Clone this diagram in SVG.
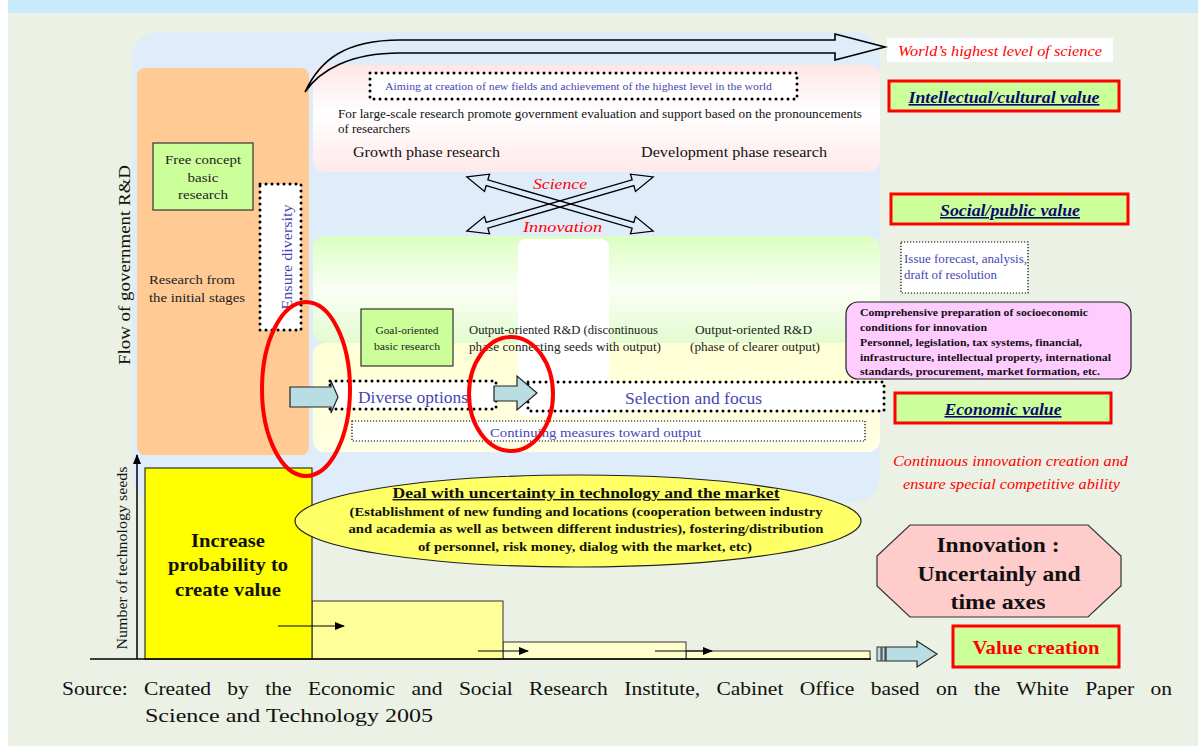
<svg xmlns="http://www.w3.org/2000/svg" width="1198" height="746" viewBox="0 0 1198 746" font-family="'Liberation Serif', 'DejaVu Serif', 'Noto Serif', serif">
  <defs>
    <linearGradient id="gPink" x1="0" y1="0" x2="0" y2="1">
      <stop offset="0" stop-color="#FFE6E6"/>
      <stop offset="0.45" stop-color="#FFFFFF"/>
      <stop offset="1" stop-color="#FFE9E9"/>
    </linearGradient>
    <linearGradient id="gGreen" x1="0" y1="0" x2="0" y2="1">
      <stop offset="0" stop-color="#DBFFC2"/>
      <stop offset="0.5" stop-color="#FBFFF6"/>
      <stop offset="1" stop-color="#E2FBCF"/>
    </linearGradient>
    <linearGradient id="gYellow" x1="0" y1="0" x2="0" y2="1">
      <stop offset="0" stop-color="#FFFFD6"/>
      <stop offset="1" stop-color="#FFFFE2"/>
    </linearGradient>
    <marker id="ah" markerWidth="10" markerHeight="8" refX="9" refY="4" orient="auto" markerUnits="userSpaceOnUse">
      <path d="M0,0 L10,4 L0,8 Z" fill="#000"/>
    </marker>
  </defs>
  <style>
    text { font-family: 'Liberation Serif', 'DejaVu Serif', 'Noto Serif', serif; }
    .blue { fill: #4646B4; }
    .val { font-weight: bold; font-style: italic; text-decoration: underline; fill: #0A0A6E; font-size: 16px; text-anchor: middle; }
    .valbox { fill: #CCFF99; stroke: #FF0000; stroke-width: 3; }
    .dots { fill: #FFFFFF; stroke: #000; stroke-width: 3; stroke-dasharray: 0 6; stroke-linecap: round; }
    .fine { fill: #FFFFFF; stroke: #000; stroke-width: 1.2; stroke-dasharray: 1.2 1.8; }
    .green { fill: #CCFF99; stroke: #333; stroke-width: 1.2; }
    .block { fill: #B8DEE4; stroke: #222; stroke-width: 1.2; }
    .ring { fill: none; stroke: #FF0000; stroke-width: 4; }
    .thin { fill: none; stroke: #000; stroke-width: 1.3; }
  </style>

  <!-- page -->
  <rect x="0" y="0" width="1198" height="746" fill="#FFFFFF"/>
  <rect x="8" y="0" width="1190" height="746" fill="#EBF1E4"/>
  <rect x="8" y="0" width="1190" height="13" fill="#C8EBFB"/>

  <!-- main panel and bands -->
  <g id="panel">
    <rect x="132" y="32" width="748" height="470" rx="26" fill="#DFECF9"/>
    <rect x="313" y="65" width="567" height="107" rx="12" fill="url(#gPink)"/>
    <rect x="313" y="236" width="567" height="107" rx="12" fill="url(#gGreen)"/>
    <rect x="313" y="343" width="567" height="109" rx="12" fill="url(#gYellow)"/>
    <rect x="518" y="239" width="91" height="178" rx="8" fill="#FFFFFF"/>
  </g>

  <!-- left column -->
  <g id="initial-stages">
    <rect x="137" y="68" width="172" height="387" rx="8" fill="#FFCA94"/>
    <text x="149" y="284" font-size="13" fill="#222" textLength="86" lengthAdjust="spacingAndGlyphs">Research from</text>
    <text x="149" y="302" font-size="13" fill="#222" textLength="96" lengthAdjust="spacingAndGlyphs">the initial stages</text>
  </g>
  <g id="free-concept">
    <rect class="green" x="153" y="143" width="100" height="67"/>
    <text x="203" y="164" font-size="13" text-anchor="middle" fill="#222" textLength="76" lengthAdjust="spacingAndGlyphs">Free concept</text>
    <text x="203" y="182" font-size="13" text-anchor="middle" fill="#222" textLength="31" lengthAdjust="spacingAndGlyphs">basic</text>
    <text x="203" y="199" font-size="13" text-anchor="middle" fill="#222" textLength="50" lengthAdjust="spacingAndGlyphs">research</text>
  </g>
  <g id="ensure-diversity">
    <rect class="dots" x="260" y="184" width="41" height="146"/>
    <text class="blue" transform="translate(292,257) rotate(-90)" font-size="14" text-anchor="middle" textLength="105" lengthAdjust="spacingAndGlyphs">Ensure diversity</text>
  </g>
  <g id="axis-labels">
    <text transform="translate(130,265) rotate(-90)" font-size="17" text-anchor="middle" fill="#111" textLength="200" lengthAdjust="spacingAndGlyphs">Flow of government R&amp;D</text>
    <text transform="translate(127,558) rotate(-90)" font-size="15" text-anchor="middle" fill="#111" textLength="183" lengthAdjust="spacingAndGlyphs">Number of technology seeds</text>
  </g>

  <!-- top band -->
  <g id="aiming">
    <rect class="dots" x="370" y="73" width="427" height="26"/>
    <text class="blue" x="385" y="90" font-size="10" textLength="387" lengthAdjust="spacingAndGlyphs">Aiming at creation of new fields and achievement of the highest level in the world</text>
  </g>
  <g id="growth-development">
    <text x="338" y="118" font-size="11.5" fill="#111" textLength="524" lengthAdjust="spacingAndGlyphs">For large-scale research promote government evaluation and support based on the pronouncements</text>
    <text x="338" y="133" font-size="11.5" fill="#111" textLength="72" lengthAdjust="spacingAndGlyphs">of researchers</text>
    <text x="353" y="157" font-size="14.5" fill="#111" textLength="147" lengthAdjust="spacingAndGlyphs">Growth phase research</text>
    <text x="641" y="157" font-size="14.5" fill="#111" textLength="186" lengthAdjust="spacingAndGlyphs">Development phase research</text>
  </g>

  <!-- middle band -->
  <g id="goal-oriented">
    <rect class="green" x="361" y="309" width="92" height="57"/>
    <text x="407" y="334" font-size="11" text-anchor="middle" fill="#222" textLength="63" lengthAdjust="spacingAndGlyphs">Goal-oriented</text>
    <text x="407" y="350" font-size="11" text-anchor="middle" fill="#222" textLength="66" lengthAdjust="spacingAndGlyphs">basic research</text>
  </g>
  <g id="output-oriented">
    <text x="469" y="334" font-size="12.5" fill="#222" textLength="189" lengthAdjust="spacingAndGlyphs">Output-oriented R&amp;D (discontinuous</text>
    <text x="469" y="351" font-size="12.5" fill="#222" textLength="192" lengthAdjust="spacingAndGlyphs">phase connecting seeds with output)</text>
    <text x="695" y="334" font-size="12.5" fill="#222" textLength="117" lengthAdjust="spacingAndGlyphs">Output-oriented R&amp;D</text>
    <text x="690" y="351" font-size="12.5" fill="#222" textLength="130" lengthAdjust="spacingAndGlyphs">(phase of clearer output)</text>
  </g>
  <g id="diverse-options">
    <rect class="dots" x="330" y="381" width="166" height="28"/>
    <text class="blue" x="358" y="403" font-size="16.5" textLength="110" lengthAdjust="spacingAndGlyphs">Diverse options</text>
  </g>
  <g id="selection-focus">
    <rect class="dots" x="528" y="382" width="356" height="29"/>
    <text class="blue" x="625" y="404" font-size="16.5" textLength="137" lengthAdjust="spacingAndGlyphs">Selection and focus</text>
  </g>
  <g id="continuing-measures">
    <rect class="fine" x="352" y="421" width="513" height="20"/>
    <text class="blue" x="490" y="437" font-size="13.5" textLength="211" lengthAdjust="spacingAndGlyphs">Continuing measures toward output</text>
  </g>

  <!-- right column -->
  <g id="world-highest">
    <rect x="887" y="38" width="226" height="24" fill="#FFFFFF"/>
    <text x="898" y="56" font-size="15" font-style="italic" fill="#FF0000" textLength="204" lengthAdjust="spacingAndGlyphs">World’s highest level of science</text>
  </g>
  <g id="intellectual-value">
    <rect class="valbox" x="889" y="81" width="230" height="30"/>
    <text class="val" x="1004" y="103" textLength="191" lengthAdjust="spacingAndGlyphs">Intellectual/cultural value</text>
  </g>
  <g id="social-value">
    <rect class="valbox" x="891" y="194" width="237" height="30"/>
    <text class="val" x="1010" y="216" textLength="140" lengthAdjust="spacingAndGlyphs">Social/public value</text>
  </g>
  <g id="issue-forecast">
    <rect class="fine" x="901" y="242" width="127" height="51"/>
    <text class="blue" x="904" y="263" font-size="11.5" textLength="123" lengthAdjust="spacingAndGlyphs">Issue forecast, analysis,</text>
    <text class="blue" x="904" y="279" font-size="11.5" textLength="93" lengthAdjust="spacingAndGlyphs">draft of resolution</text>
  </g>
  <g id="socioeconomic">
    <rect x="846" y="302" width="285" height="77" rx="12" fill="#FFCCFF" stroke="#222" stroke-width="1.2"/>
    <text x="860" y="316" font-size="10.5" font-weight="bold" fill="#111" textLength="228" lengthAdjust="spacingAndGlyphs">Comprehensive preparation of socioeconomic</text>
    <text x="860" y="331" font-size="10.5" font-weight="bold" fill="#111" textLength="127" lengthAdjust="spacingAndGlyphs">conditions for innovation</text>
    <text x="860" y="346" font-size="10.5" font-weight="bold" fill="#111" textLength="222" lengthAdjust="spacingAndGlyphs">Personnel, legislation, tax systems, financial,</text>
    <text x="860" y="361" font-size="10.5" font-weight="bold" fill="#111" textLength="251" lengthAdjust="spacingAndGlyphs">infrastructure, intellectual property, international</text>
    <text x="860" y="375" font-size="10.5" font-weight="bold" fill="#111" textLength="240" lengthAdjust="spacingAndGlyphs">standards, procurement, market formation, etc.</text>
  </g>
  <g id="economic-value">
    <rect class="valbox" x="895" y="393" width="216" height="30"/>
    <text class="val" x="1003" y="415" textLength="117" lengthAdjust="spacingAndGlyphs">Economic value</text>
  </g>
  <g id="continuous-innovation">
    <text x="893" y="466" font-size="15.5" font-style="italic" fill="#FF0000" textLength="235" lengthAdjust="spacingAndGlyphs">Continuous innovation creation and</text>
    <text x="903" y="489" font-size="15.5" font-style="italic" fill="#FF0000" textLength="217" lengthAdjust="spacingAndGlyphs">ensure special competitive ability</text>
  </g>
  <g id="innovation-axes">
    <polygon points="910,525 1088,525 1121,556 1121,586 1088,617 910,617 877,586 877,556" fill="#FFCCCC" stroke="#333" stroke-width="1.2"/>
    <text x="998" y="552" font-size="20" font-weight="bold" text-anchor="middle" fill="#111" textLength="123" lengthAdjust="spacingAndGlyphs">Innovation :</text>
    <text x="999" y="581" font-size="20" font-weight="bold" text-anchor="middle" fill="#111" textLength="163" lengthAdjust="spacingAndGlyphs">Uncertainly and</text>
    <text x="998" y="609" font-size="20" font-weight="bold" text-anchor="middle" fill="#111" textLength="95" lengthAdjust="spacingAndGlyphs">time axes</text>
  </g>
  <g id="value-creation">
    <rect class="valbox" x="953" y="626" width="166" height="41"/>
    <text x="1036" y="654" font-size="18" font-weight="bold" text-anchor="middle" fill="#FF0000" textLength="127" lengthAdjust="spacingAndGlyphs">Value creation</text>
  </g>

  <!-- bottom chart -->
  <g id="seed-bars">
    <rect x="686" y="651" width="184" height="8" fill="#FFFFCC" stroke="#333" stroke-width="1"/>
    <rect x="503" y="642" width="183" height="17" fill="#FFFFCC" stroke="#333" stroke-width="1"/>
    <rect x="312" y="601" width="191" height="58" fill="#FFFF99" stroke="#333" stroke-width="1"/>
    <rect x="145" y="468" width="167" height="191" fill="#FFFF00" stroke="#333" stroke-width="1.2"/>
    <text x="228" y="547" font-size="19" font-weight="bold" text-anchor="middle" fill="#111" textLength="74" lengthAdjust="spacingAndGlyphs">Increase</text>
    <text x="228" y="571" font-size="19" font-weight="bold" text-anchor="middle" fill="#111" textLength="120" lengthAdjust="spacingAndGlyphs">probability to</text>
    <text x="228" y="596" font-size="19" font-weight="bold" text-anchor="middle" fill="#111" textLength="106" lengthAdjust="spacingAndGlyphs">create value</text>
  </g>
  <g id="uncertainty">
    <ellipse cx="578" cy="521" rx="283" ry="46" fill="#FFFF66" stroke="#222" stroke-width="1.2"/>
    <text x="586" y="498" font-size="14" font-weight="bold" text-anchor="middle" text-decoration="underline" fill="#111" textLength="387" lengthAdjust="spacingAndGlyphs">Deal with uncertainty in technology and the market</text>
    <text x="586" y="516" font-size="12" font-weight="bold" text-anchor="middle" fill="#111" textLength="473" lengthAdjust="spacingAndGlyphs">(Establishment of new funding and locations (cooperation between industry</text>
    <text x="586" y="533" font-size="12" font-weight="bold" text-anchor="middle" fill="#111" textLength="475" lengthAdjust="spacingAndGlyphs">and academia as well as between different industries), fostering/distribution</text>
    <text x="585" y="551" font-size="12" font-weight="bold" text-anchor="middle" fill="#111" textLength="334" lengthAdjust="spacingAndGlyphs">of personnel, risk money, dialog with the market, etc)</text>
  </g>

  <!-- connectors and arrows -->
  <g id="connectors">
    <!-- path toward the world's highest level of science -->
    <path d="M305,92 C320,60 345,40 400,40 L835,40 L835,34 L885,47 L835,60 L835,53 L400,53 C350,53 320,70 305,92 Z" fill="none" stroke="#000" stroke-width="1.6"/>
    <!-- science / innovation crossing double arrows -->
    <g transform="translate(560,204) rotate(16.2)">
      <polygon class="thin" points="-97,0 -76,-9 -76,-3 76,-3 76,-9 97,0 76,9 76,3 -76,3 -76,9"/>
    </g>
    <g transform="translate(560,204) rotate(-16.2)">
      <polygon class="thin" points="-97,0 -76,-9 -76,-3 76,-3 76,-9 97,0 76,9 76,3 -76,3 -76,9"/>
    </g>
    <!-- block arrows along the flow -->
    <polygon class="block" points="290,387 331,387 331,381 338,397 331,413 331,407 290,407"/>
    <polygon class="block" points="494,386 517,386 517,376 537,393 517,410 517,401 494,401"/>
    <rect x="877" y="647" width="4" height="14" fill="#B8DEE4" stroke="#333" stroke-width="1"/>
    <rect x="882" y="647" width="3" height="14" fill="#B8DEE4" stroke="#333" stroke-width="1"/>
    <polygon class="block" points="886,647 917,647 917,641 937,654 917,667 917,661 886,661"/>
    <!-- axes -->
    <line x1="90" y1="659" x2="871" y2="659" stroke="#000" stroke-width="1.5"/>
    <line x1="137" y1="659" x2="137" y2="455" stroke="#000" stroke-width="1.5" marker-end="url(#ah)"/>
    <!-- time steps -->
    <line x1="278" y1="626" x2="344" y2="626" stroke="#000" stroke-width="1.2" marker-end="url(#ah)"/>
    <line x1="478" y1="651" x2="528" y2="651" stroke="#000" stroke-width="1.2" marker-end="url(#ah)"/>
    <line x1="655" y1="651" x2="712" y2="651" stroke="#000" stroke-width="1.2" marker-end="url(#ah)"/>
  </g>

  <g id="flow-labels">
    <text x="533" y="189" font-size="15.5" font-style="italic" fill="#FF0000" textLength="54" lengthAdjust="spacingAndGlyphs">Science</text>
    <text x="523" y="232" font-size="15.5" font-style="italic" fill="#FF0000" textLength="79" lengthAdjust="spacingAndGlyphs">Innovation</text>
  </g>

  <!-- emphasis rings -->
  <g id="highlights">
    <ellipse class="ring" cx="306" cy="389" rx="44" ry="87"/>
    <ellipse class="ring" cx="511" cy="394" rx="42" ry="57"/>
  </g>

  <!-- source note -->
  <g id="source">
    <text x="62" y="695" font-size="19.5" fill="#111" word-spacing="10" textLength="1110" lengthAdjust="spacingAndGlyphs">Source: Created by the Economic and Social Research Institute, Cabinet Office based on the White Paper on</text>
    <text x="145" y="722" font-size="19.5" fill="#111" textLength="288" lengthAdjust="spacingAndGlyphs">Science and Technology 2005</text>
  </g>
</svg>
